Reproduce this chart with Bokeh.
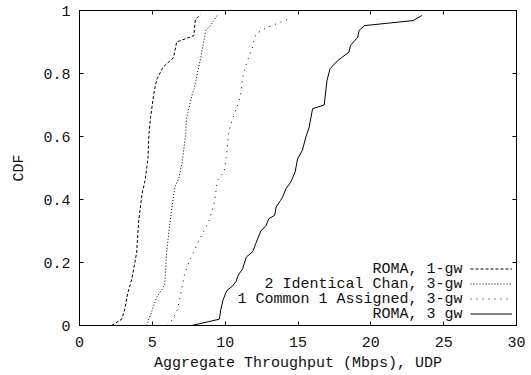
from bokeh.plotting import figure
from bokeh.models import (Range1d, FixedTicker, LinearAxis, Legend, LegendItem, Label)
from bokeh.core.properties import value
from bokeh.embed import file_html
from bokeh.resources import INLINE

FONT = "Liberation Mono"

x_ticks = [0, 5, 10, 15, 20, 25, 30]
y_ticks = [0, 0.2, 0.4, 0.6, 0.8, 1]
y_tick_labels = {0: "0", 0.2: "0.2", 0.4: "0.4", 0.6: "0.6", 0.8: "0.8", 1: "1"}

series_names = ["ROMA, 1-gw", "2 Identical Chan, 3-gw", "1 Common 1 Assigned, 3-gw", "ROMA, 3 gw"]

roma1_x = [2.2, 2.9, 3.1, 3.3, 3.6, 3.8, 3.92, 4.06, 4.3, 4.5, 4.7, 4.77, 4.88, 5.1, 5.2, 5.34, 5.73, 6.45, 6.67, 7.85, 7.95, 8.3]
roma1_y = [0, 0.02, 0.05, 0.1, 0.15, 0.2, 0.23, 0.33, 0.42, 0.46, 0.53, 0.61, 0.66, 0.736, 0.76, 0.784, 0.82, 0.85, 0.9, 0.92, 0.97, 0.987]

ident_x = [4.6, 5.0, 5.3, 5.6, 5.85, 5.98, 6.14, 6.3, 6.55, 6.83, 7.06, 7.29, 7.36, 7.75, 7.86, 8.3, 8.67, 9.0, 9.45]
ident_y = [0, 0.05, 0.09, 0.11, 0.13, 0.23, 0.30, 0.36, 0.44, 0.47, 0.52, 0.61, 0.66, 0.736, 0.75, 0.845, 0.937, 0.952, 0.985]

common_x = [6.0, 6.4, 6.72, 6.95, 7.2, 7.5, 7.8, 8.1, 8.55, 8.9, 9.24, 9.47, 9.93, 10.1, 10.27, 10.5, 10.96, 11.07, 11.2, 11.45, 11.88, 12.1, 12.9, 13.8, 14.35]
common_y = [0, 0.02, 0.05, 0.1, 0.16, 0.2, 0.228, 0.26, 0.30, 0.333, 0.386, 0.46, 0.49, 0.545, 0.62, 0.655, 0.714, 0.736, 0.79, 0.83, 0.884, 0.926, 0.947, 0.963, 0.973]

roma3_x = [7.7, 9.6, 9.7, 9.85, 10.1, 10.5, 10.75, 10.9, 11.2, 11.45, 11.9, 12.1, 12.45, 12.8, 13.0, 13.4, 13.5, 13.8, 13.94, 14.17, 14.5, 14.8, 14.97, 15.3, 15.54, 15.77, 16.0, 16.8, 16.99, 17.2, 17.7, 18.5, 18.6, 19.1, 19.2, 19.56, 22.9, 23.5]
roma3_y = [0, 0.02, 0.05, 0.08, 0.11, 0.125, 0.14, 0.16, 0.18, 0.217, 0.235, 0.26, 0.30, 0.317, 0.339, 0.35, 0.376, 0.397, 0.407, 0.434, 0.455, 0.487, 0.529, 0.556, 0.598, 0.63, 0.688, 0.70, 0.778, 0.815, 0.84, 0.868, 0.889, 0.915, 0.937, 0.952, 0.968, 0.984]

dashes = ["3 2", "1 2", "1 5", "solid"]

p = figure(width=531, height=375, x_range=Range1d(0, 30), y_range=Range1d(0, 1),
           output_backend="svg", toolbar_location=None,
           min_border_left=79, min_border_right=15, min_border_top=10, min_border_bottom=50)
p.grid.visible = False
p.outline_line_color = "black"
p.outline_line_width = 1
p.background_fill_color = "white"
p.border_fill_color = "white"

def style_axis(ax, ticks):
    ax.ticker = FixedTicker(ticks=ticks)
    ax.major_tick_in = 4
    ax.major_tick_out = 0
    ax.minor_tick_in = 0
    ax.minor_tick_out = 0
    ax.axis_line_color = "black"
    ax.major_tick_line_color = "black"
    ax.major_label_text_font = FONT
    ax.major_label_text_font_size = "15px"
    ax.major_label_text_color = "#111111"
    ax.axis_label_text_font = FONT
    ax.axis_label_text_font_size = "15px"
    ax.axis_label_text_font_style = "normal"
    ax.axis_label_text_color = "#111111"

def mirror_axis(ticks):
    # ticks only (as minor ticks, which carry no labels)
    ax = LinearAxis(ticker=FixedTicker(ticks=[], minor_ticks=ticks))
    ax.major_tick_in = 0
    ax.major_tick_out = 0
    ax.minor_tick_in = 4
    ax.minor_tick_out = 0
    ax.minor_tick_line_color = "black"
    ax.axis_line_color = "black"
    ax.major_label_standoff = 0
    return ax

xa = p.xaxis[0]
style_axis(xa, x_ticks)
xa.axis_label = "Aggregate Throughput (Mbps), UDP"
xa.major_label_standoff = 11
xa.axis_label_standoff = 5

ya = p.yaxis[0]
style_axis(ya, y_ticks)
ya.major_label_overrides = y_tick_labels
ya.axis_label = "CDF"
ya.major_label_standoff = 9
ya.axis_label_standoff = 12

p.add_layout(mirror_axis(x_ticks), "above")
p.add_layout(mirror_axis(y_ticks), "right")

xs = [roma1_x, ident_x, common_x, roma3_x]
ys = [roma1_y, ident_y, common_y, roma3_y]
renderers = []
for x, y, d in zip(xs, ys, dashes):
    r = p.line(x, y, line_color="black", line_width=1, line_dash=d)
    renderers.append(r)

# legend samples (glyphs on right), texts drawn as right-aligned labels to their left
row_h = 15
leg_x = 391
leg_y = 4
legend = Legend(items=[LegendItem(label=value(""), renderers=[r]) for r in renderers],
                location=(leg_x, leg_y), glyph_width=42, glyph_height=row_h,
                label_height=row_h, label_width=0, label_standoff=0, spacing=0,
                padding=0, margin=0, border_line_color=None, background_fill_alpha=0,
                label_text_font_size="1px", label_text_alpha=0, label_text_color=None)
p.add_layout(legend, "center")

n = len(series_names)
for i, name in enumerate(series_names):
    yc = leg_y + row_h * (n - 1 - i) + row_h / 2
    p.add_layout(Label(x=leg_x - 8, y=yc, x_units="screen", y_units="screen", text=name,
                       text_align="right", text_baseline="middle",
                       text_font=FONT, text_font_size="15px", text_color="#111111"))

open("out.html", "w").write(file_html(p, INLINE))
